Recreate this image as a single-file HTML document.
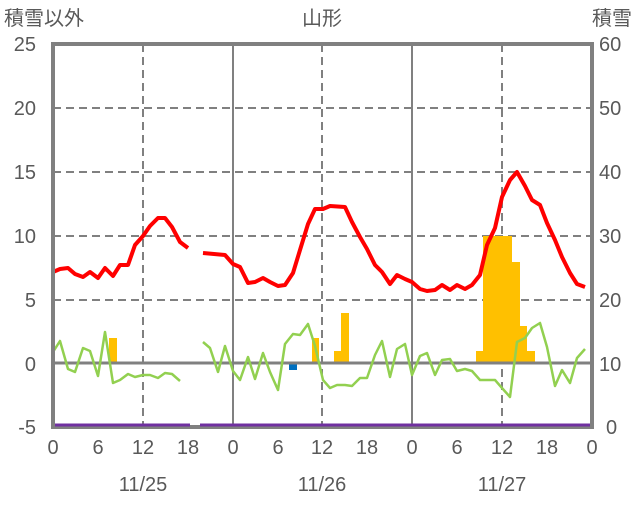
<!DOCTYPE html>
<html><head><meta charset="utf-8"><style>
body{margin:0;background:#fff}
text{font-family:"Liberation Sans Narrow","Liberation Sans","Noto Sans CJK JP",sans-serif;fill:#595959;font-size:20px}
</style></head><body>
<svg width="636" height="501" viewBox="0 0 636 501" xmlns="http://www.w3.org/2000/svg">
<g stroke="#808080" stroke-width="2" stroke-dasharray="8,5" fill="none">
<line x1="53" y1="108" x2="592" y2="108"/><line x1="53" y1="172" x2="592" y2="172"/>
<line x1="53" y1="236" x2="592" y2="236"/><line x1="53" y1="300" x2="592" y2="300"/>
<line x1="143" y1="44" x2="143" y2="427"/><line x1="322" y1="44" x2="322" y2="427"/><line x1="502" y1="44" x2="502" y2="427"/>
</g>
<g stroke="#808080" stroke-width="2">
<line x1="233" y1="44" x2="233" y2="427"/><line x1="412" y1="44" x2="412" y2="427"/>
</g>
<g fill="#FFC000">
<rect x="109" y="338" width="8" height="25"/><rect x="312" y="338" width="7" height="25"/>
<rect x="334" y="351" width="7" height="12"/><rect x="341" y="313" width="8" height="50"/>
<rect x="476" y="351" width="7" height="12"/><rect x="483" y="236" width="29" height="127"/>
<rect x="512" y="262" width="8" height="101"/><rect x="520" y="326" width="7" height="37"/>
<rect x="527" y="351" width="8" height="12"/>
</g>
<rect x="289" y="363" width="8" height="7" fill="#0070C0"/>
<line x1="53" y1="363" x2="592" y2="363" stroke="#808080" stroke-width="3"/>
<g fill="none" stroke-linejoin="round">
<polyline stroke="#FF0000" stroke-width="4" points="53,272 60,269 68,268 75,274 83,277 90,272 98,278 105,268 113,276 120,265 128,265 135,245 143,236 150,226 158,218 165,218 172,227 180,242 188,248"/>
<polyline stroke="#FF0000" stroke-width="4" points="203,253 225,255 233,264 240,267 248,283 255,282 263,278 270,282 278,286 285,285 293,273 300,250 308,224 315,209 323,209 330,206 345,207 352,222 360,237 367,249 375,265 382,272 390,284 397,275 405,279 412,282 420,289 427,291 435,290 442,285 450,290 457,285 465,289 472,285 480,275 487,245 495,228 502,197 510,180 517,172 525,186 532,200 540,205 547,223 555,240 562,257 570,273 577,284 585,287"/>
<polyline stroke="#92D050" stroke-width="2.5" points="53,352 60,341 68,369 75,372 83,348 90,351 98,376 105,332 113,383 120,380 128,374 135,377 143,375 150,375 158,378 165,373 172,374 180,381"/>
<polyline stroke="#92D050" stroke-width="2.5" points="203,342 210,348 218,372 225,346 233,371 240,380 248,357 255,379 263,353 270,372 278,390 285,344 293,334 300,335 308,324 315,346 323,380 330,388 337,385 345,385 352,386 360,378 367,378 375,355 382,341 390,377 397,349 405,344 412,375 420,356 427,353 435,375 442,360 450,359 457,371 465,369 472,371 480,380 487,380 495,380 502,388 510,397 517,342 525,338 532,328 540,323 547,347 555,386 562,370 570,383 577,358 585,349"/>
</g>
<rect x="53" y="44" width="539" height="383" fill="none" stroke="#808080" stroke-width="4"/>
<line x1="55" y1="425" x2="190" y2="425" stroke="#7030A0" stroke-width="3"/>
<line x1="200" y1="425" x2="590" y2="425" stroke="#7030A0" stroke-width="3"/>
<g text-anchor="end">
<text x="36" y="51">25</text><text x="36" y="115">20</text><text x="36" y="179">15</text>
<text x="36" y="243">10</text><text x="36" y="307">5</text><text x="36" y="371">0</text><text x="36" y="434">-5</text>
</g>
<g text-anchor="start">
<text x="599" y="51">60</text><text x="599" y="115">50</text><text x="599" y="179">40</text>
<text x="599" y="243">30</text><text x="599" y="307">20</text><text x="599" y="371">10</text><text x="606" y="434">0</text>
</g>
<g text-anchor="middle">
<text x="53" y="454">0</text><text x="98" y="454">6</text><text x="143" y="454">12</text><text x="188" y="454">18</text>
<text x="233" y="454">0</text><text x="278" y="454">6</text><text x="322" y="454">12</text><text x="367" y="454">18</text>
<text x="412" y="454">0</text><text x="457" y="454">6</text><text x="502" y="454">12</text><text x="547" y="454">18</text>
<text x="592" y="454">0</text>
<text x="143" y="491">11/25</text><text x="322" y="491">11/26</text><text x="502" y="491">11/27</text>
<text x="322" y="25">山形</text>
</g>
<text x="4" y="25">積雪以外</text>
<text x="592" y="25">積雪</text>
</svg>
</body></html>
